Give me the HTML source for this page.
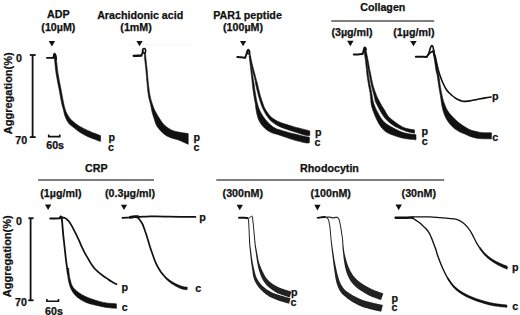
<!DOCTYPE html>
<html><head><meta charset="utf-8">
<style>
html,body{margin:0;padding:0;background:#fff;}
body{width:520px;height:315px;overflow:hidden;}
svg{display:block;}
text{font-family:"Liberation Sans",sans-serif;font-weight:bold;font-size:10.7px;fill:#111;stroke:#111;stroke-width:0.25px;}
text.y{font-size:11px;}
</style></head>
<body>
<svg width="520" height="315" viewBox="0 0 520 315">
<g text-anchor="middle">
<text x="58.4" y="18.4">ADP</text>
<text x="58.4" y="30.8">(10µM)</text>
<text x="140.2" y="18.6">Arachidonic acid</text>
<text x="136.1" y="31.2">(1mM)</text>
<text x="247.5" y="18.6">PAR1 peptide</text>
<text x="243" y="31.2">(100µM)</text>
<text x="382.8" y="10.6">Collagen</text>
<text x="352" y="35.6">(3µg/ml)</text>
<text x="413.9" y="35.6">(1µg/ml)</text>
<text x="96.3" y="172.1">CRP</text>
<text x="60.9" y="197.2">(1µg/ml)</text>
<text x="130.1" y="197.2">(0.3µg/ml)</text>
<text x="329.5" y="172.1">Rhodocytin</text>
<text x="242.8" y="197.2">(300nM)</text>
<text x="330.7" y="197.2">(100nM)</text>
<text x="418.8" y="197.2">(30nM)</text>
</g>
<g stroke="#555" stroke-width="1.5">
<line x1="331.3" y1="20.9" x2="434.2" y2="20.9"/>
<line x1="38.1" y1="180.1" x2="154" y2="180.1"/>
<line x1="216.3" y1="180.1" x2="444.2" y2="180.1"/>
</g>
<line x1="127.6" y1="44.7" x2="191.6" y2="44.7" stroke="#f5f5f5" stroke-width="1"/>

<g fill="#111">
<path d="M48.7,40.9 L55.1,40.9 L51.9,46.4 Z"/>
<path d="M136.4,40.9 L142.6,40.9 L139.5,46.3 Z"/>
<path d="M240.0,40.9 L246.2,40.9 L243.1,46.3 Z"/>
<path d="M347.1,40.7 L353.6,40.7 L350.35,46.2 Z"/>
<path d="M410.2,40.9 L416.7,40.9 L413.45,46.3 Z"/>
<path d="M44.9,204.5 L51.3,204.5 L48.1,210.0 Z"/>
<path d="M120.9,204.7 L127.1,204.7 L124.0,210.1 Z"/>
<path d="M236.6,204.7 L242.9,204.7 L239.75,210.3 Z"/>
<path d="M314.3,204.8 L320.6,204.8 L317.45,210.4 Z"/>
<path d="M395.5,204.5 L401.9,204.5 L398.7,210.3 Z"/>
</g>

<g stroke="#111" stroke-width="1.8">
<line x1="32.6" y1="55" x2="32.6" y2="137.1"/>
<line x1="29.8" y1="55" x2="35.7" y2="55"/>
<line x1="29.8" y1="137.1" x2="35.7" y2="137.1"/>
<line x1="30.6" y1="218.2" x2="30.6" y2="300.3"/>
<line x1="28.4" y1="218.2" x2="33.6" y2="218.2"/>
<line x1="28.2" y1="300.3" x2="33.6" y2="300.3"/>
</g>
<text x="15.9" y="61.8">0</text>
<text x="15.2" y="143.6">70</text>
<text class="y" transform="translate(11.6,134.2) rotate(-90)">Aggregation(%)</text>
<text x="16.0" y="224.6">0</text>
<text x="15.0" y="306.3">70</text>
<text class="y" transform="translate(11.2,297.2) rotate(-90)">Aggregation(%)</text>
<path d="M48.7,134.6 V136.6 H59.8 V134.6" fill="none" stroke="#111" stroke-width="1.6"/>
<text x="46.2" y="148.9">60s</text>
<path d="M46.9,299.1 V301.3 H58.5 V299.1" fill="none" stroke="#111" stroke-width="1.6"/>
<text x="45" y="314.8">60s</text>

<g>
<text x="108.6" y="140.6">p</text>
<text x="107.9" y="150.9">c</text>
<text x="193.4" y="141.2">p</text>
<text x="193.6" y="150.8">c</text>
<text x="315" y="136.2">p</text>
<text x="314.6" y="146.4">c</text>
<text x="421.6" y="134.8">p</text>
<text x="421.8" y="144.6">c</text>
<text x="491.9" y="100.2">p</text>
<text x="492.2" y="140.6">c</text>
<text x="121.6" y="291.2">p</text>
<text x="121.8" y="311">c</text>
<text x="199.3" y="220.9">p</text>
<text x="195.2" y="292">c</text>
<text x="291" y="296.2">p</text>
<text x="290.6" y="306">c</text>
<text x="391.6" y="301.8">p</text>
<text x="391.4" y="311.3">c</text>
<text x="512" y="270.7">p</text>
<text x="512.2" y="310.3">c</text>
</g>
<g fill="#111">
<path d="M46.90,57.80 C47.98,57.80 52.32,57.80 53.40,57.80" fill="none" stroke="#111" stroke-width="1.80" stroke-linejoin="round" stroke-linecap="round"/>
<path d="M53.40,57.80 C53.55,57.13 53.98,54.22 54.30,53.80 C54.62,53.38 55.02,54.43 55.30,55.30 C55.58,56.17 55.88,58.38 56.00,59.00" fill="none" stroke="#111" stroke-width="2.00" stroke-linejoin="round" stroke-linecap="round"/>
<path d="M56.20,55.50 C56.25,56.25 56.17,56.87 56.50,60.00 C56.83,63.13 57.47,69.53 58.20,74.30 C58.93,79.07 60.00,83.83 60.90,88.60 C61.80,93.37 62.82,99.25 63.60,102.90 C64.38,106.55 64.95,108.57 65.60,110.50 C66.25,112.43 66.85,113.28 67.50,114.50 C68.15,115.72 68.75,116.78 69.50,117.80 C70.25,118.82 70.55,119.33 72.00,120.60 C73.45,121.87 75.58,123.77 78.20,125.40 C80.82,127.03 85.07,129.12 87.70,130.40 C90.33,131.68 92.13,132.33 94.00,133.10 C95.87,133.87 97.80,134.58 98.90,135.00 C100.00,135.42 100.32,135.50 100.60,135.60 L100.60,141.20 C100.43,141.20 100.60,141.52 99.60,141.20 C98.60,140.88 96.63,140.10 94.60,139.30 C92.57,138.50 89.78,137.52 87.40,136.40 C85.02,135.28 82.68,134.15 80.30,132.60 C77.92,131.05 75.00,128.60 73.10,127.10 C71.20,125.60 70.20,125.27 68.90,123.60 C67.60,121.93 66.23,119.45 65.30,117.10 C64.37,114.75 63.92,111.87 63.30,109.50 C62.68,107.13 62.33,106.38 61.60,102.90 C60.87,99.42 59.80,93.37 58.90,88.60 C58.00,83.83 56.92,79.07 56.20,74.30 C55.48,69.53 54.87,63.05 54.60,60.00 C54.33,56.95 54.60,56.67 54.60,56.00 Z" fill="#111" stroke="#111" stroke-width="0.60" stroke-linejoin="round"/>
<path d="M133.60,55.80 C134.88,55.78 140.02,55.72 141.30,55.70" fill="none" stroke="#111" stroke-width="2.30" stroke-linejoin="round" stroke-linecap="round"/>
<ellipse cx="144.1" cy="50.9" rx="1.55" ry="2.3" fill="none" stroke="#111" stroke-width="1.5"/>
<path d="M141.30,55.40 C141.47,55.03 142.05,53.93 142.30,53.20 C142.55,52.47 142.72,51.37 142.80,51.00" fill="none" stroke="#111" stroke-width="1.80" stroke-linejoin="round" stroke-linecap="round"/>
<path d="M145.40,52.50 C145.52,53.75 145.80,57.08 146.10,60.00 C146.40,62.92 146.83,66.22 147.20,70.00 C147.57,73.78 147.83,78.47 148.30,82.70 C148.77,86.93 149.27,91.68 150.00,95.40 C150.73,99.12 151.75,102.22 152.70,105.00 C153.65,107.78 154.48,109.72 155.70,112.10 C156.92,114.48 158.57,117.15 160.00,119.30 C161.43,121.45 162.40,123.22 164.30,125.00 C166.20,126.78 169.02,128.82 171.40,130.00 C173.78,131.18 175.80,131.50 178.60,132.10 C181.40,132.70 186.60,133.35 188.20,133.60 L188.20,144.30 C186.60,143.58 181.40,141.07 178.60,140.00 C175.80,138.93 173.78,138.85 171.40,137.90 C169.02,136.95 166.68,136.22 164.30,134.30 C161.92,132.38 158.77,128.90 157.10,126.40 C155.43,123.90 155.13,121.68 154.30,119.30 C153.47,116.92 152.70,114.48 152.10,112.10 C151.50,109.72 151.32,107.78 150.70,105.00 C150.08,102.22 149.02,99.12 148.40,95.40 C147.78,91.68 147.42,86.93 147.00,82.70 C146.58,78.47 146.27,73.78 145.90,70.00 C145.53,66.22 145.07,62.92 144.80,60.00 C144.53,57.08 144.38,53.75 144.30,52.50 Z" fill="#111" stroke="#111" stroke-width="0.60" stroke-linejoin="round"/>
<path d="M237.30,57.00 C237.92,57.05 239.68,57.18 241.00,57.30 C242.32,57.42 244.50,57.63 245.20,57.70" fill="none" stroke="#111" stroke-width="1.90" stroke-linejoin="round" stroke-linecap="round"/>
<path d="M245.20,57.60 C245.38,57.08 245.95,55.60 246.30,54.50 C246.65,53.40 246.98,51.78 247.30,51.00 C247.62,50.22 247.88,49.80 248.20,49.80 C248.52,49.80 249.03,50.80 249.20,51.00" fill="none" stroke="#111" stroke-width="1.90" stroke-linejoin="round" stroke-linecap="round"/>
<ellipse cx="248.6" cy="52.2" rx="1.1" ry="1.9" fill="none" stroke="#111" stroke-width="1.4"/>
<path d="M249.40,50.00 C249.65,51.33 250.43,55.67 250.90,58.00 C251.37,60.33 251.63,61.67 252.20,64.00 C252.77,66.33 253.60,69.33 254.30,72.00 C255.00,74.67 255.92,78.22 256.40,80.00 C256.88,81.78 256.78,81.03 257.20,82.70 C257.62,84.37 258.37,87.78 258.90,90.00 C259.43,92.22 259.82,94.00 260.40,96.00 C260.98,98.00 261.70,100.00 262.40,102.00 C263.10,104.00 263.70,106.17 264.60,108.00 C265.50,109.83 266.73,111.50 267.80,113.00 C268.87,114.50 269.73,115.83 271.00,117.00 C272.27,118.17 273.90,119.12 275.40,120.00 C276.90,120.88 277.12,121.23 280.00,122.30 C282.88,123.37 288.47,125.17 292.70,126.40 C296.93,127.63 302.55,128.95 305.40,129.70 C308.25,130.45 309.07,130.70 309.80,130.90 L309.80,135.60 C309.07,135.55 308.25,136.02 305.40,135.30 C302.55,134.58 296.93,132.72 292.70,131.30 C288.47,129.88 283.28,128.27 280.00,126.80 C276.72,125.33 274.83,123.83 273.00,122.50 C271.17,121.17 270.23,120.22 269.00,118.80 C267.77,117.38 266.68,115.80 265.60,114.00 C264.52,112.20 263.38,110.00 262.50,108.00 C261.62,106.00 260.97,104.00 260.30,102.00 C259.63,100.00 259.05,98.00 258.50,96.00 C257.95,94.00 257.52,92.22 257.00,90.00 C256.48,87.78 255.73,84.37 255.40,82.70 C255.07,81.03 255.42,81.78 255.00,80.00 C254.58,78.22 253.55,74.67 252.90,72.00 C252.25,69.33 251.58,66.33 251.10,64.00 C250.62,61.67 250.42,60.00 250.00,58.00 C249.58,56.00 248.83,53.00 248.60,52.00 Z" fill="#111" stroke="#111" stroke-width="0.60" stroke-linejoin="round"/>
<path d="M249.90,56.00 C250.07,57.00 250.57,59.67 250.90,62.00 C251.23,64.33 251.53,67.33 251.90,70.00 C252.27,72.67 252.77,75.88 253.10,78.00 C253.43,80.12 253.55,80.37 253.90,82.70 C254.25,85.03 254.75,89.12 255.20,92.00 C255.65,94.88 256.22,98.00 256.60,100.00 C256.98,102.00 257.07,102.50 257.50,104.00 C257.93,105.50 258.52,107.33 259.20,109.00 C259.88,110.67 260.63,112.33 261.60,114.00 C262.57,115.67 263.85,117.50 265.00,119.00 C266.15,120.50 267.25,121.75 268.50,123.00 C269.75,124.25 271.17,125.53 272.50,126.50 C273.83,127.47 275.25,128.23 276.50,128.80 C277.75,129.37 277.30,129.12 280.00,129.90 C282.70,130.68 288.47,132.38 292.70,133.50 C296.93,134.62 302.62,135.98 305.40,136.60 C308.18,137.22 308.73,137.10 309.40,137.20 L309.40,142.80 C308.73,142.80 308.18,143.33 305.40,142.80 C302.62,142.27 296.93,140.85 292.70,139.60 C288.47,138.35 283.37,136.40 280.00,135.30 C276.63,134.20 274.42,133.72 272.50,133.00 C270.58,132.28 269.83,131.83 268.50,131.00 C267.17,130.17 265.75,129.17 264.50,128.00 C263.25,126.83 262.00,125.42 261.00,124.00 C260.00,122.58 259.18,121.17 258.50,119.50 C257.82,117.83 257.35,115.92 256.90,114.00 C256.45,112.08 256.08,109.83 255.80,108.00 C255.52,106.17 255.40,104.33 255.20,103.00 C255.00,101.67 254.92,101.83 254.60,100.00 C254.28,98.17 253.70,94.88 253.30,92.00 C252.90,89.12 252.47,85.03 252.20,82.70 C251.93,80.37 251.93,80.12 251.70,78.00 C251.47,75.88 251.10,72.67 250.80,70.00 C250.50,67.33 250.17,64.33 249.90,62.00 C249.63,59.67 249.32,57.00 249.20,56.00 Z" fill="#111" stroke="#111" stroke-width="0.60" stroke-linejoin="round"/>
<path d="M353.80,54.50 C354.50,54.48 356.57,54.48 358.00,54.40 C359.43,54.32 361.67,54.07 362.40,54.00" fill="none" stroke="#111" stroke-width="2.00" stroke-linejoin="round" stroke-linecap="round"/>
<path d="M362.40,54.00 C362.58,53.50 363.17,52.03 363.50,51.00 C363.83,49.97 364.10,48.37 364.40,47.80 C364.70,47.23 365.03,47.32 365.30,47.60 C365.57,47.88 365.88,49.18 366.00,49.50" fill="none" stroke="#111" stroke-width="1.90" stroke-linejoin="round" stroke-linecap="round"/>
<path d="M365.40,47.50 C365.57,48.25 366.03,50.25 366.40,52.00 C366.77,53.75 367.27,56.33 367.60,58.00 C367.93,59.67 368.05,60.10 368.40,62.00 C368.75,63.90 369.32,67.40 369.70,69.40 C370.08,71.40 370.35,72.23 370.70,74.00 C371.05,75.77 371.33,77.83 371.80,80.00 C372.27,82.17 372.88,84.88 373.50,87.00 C374.12,89.12 374.82,90.87 375.50,92.70 C376.18,94.53 376.88,96.45 377.60,98.00 C378.32,99.55 379.13,100.77 379.80,102.00 C380.47,103.23 380.82,104.07 381.60,105.40 C382.38,106.73 383.38,108.18 384.50,110.00 C385.62,111.82 386.82,114.50 388.30,116.30 C389.78,118.10 391.50,119.30 393.40,120.80 C395.30,122.30 397.60,124.05 399.70,125.30 C401.80,126.55 403.53,127.53 406.00,128.30 C408.47,129.07 413.08,129.63 414.50,129.90 L414.50,133.20 C413.08,132.87 408.88,132.13 406.00,131.20 C403.12,130.27 399.70,128.83 397.20,127.60 C394.70,126.37 393.07,125.38 391.00,123.80 C388.93,122.22 386.58,120.22 384.80,118.10 C383.02,115.98 381.70,113.52 380.30,111.10 C378.90,108.68 377.20,105.12 376.40,103.60 C375.60,102.08 375.80,102.93 375.50,102.00 C375.20,101.07 374.97,99.55 374.60,98.00 C374.23,96.45 373.77,94.53 373.30,92.70 C372.83,90.87 372.30,89.12 371.80,87.00 C371.30,84.88 370.73,82.17 370.30,80.00 C369.87,77.83 369.53,75.77 369.20,74.00 C368.87,72.23 368.65,71.40 368.30,69.40 C367.95,67.40 367.43,63.90 367.10,62.00 C366.77,60.10 366.63,59.50 366.30,58.00 C365.97,56.50 365.43,54.67 365.10,53.00 C364.77,51.33 364.43,48.83 364.30,48.00 Z" fill="#111" stroke="#111" stroke-width="0.60" stroke-linejoin="round"/>
<path d="M365.20,50.00 C365.33,50.83 365.73,53.17 366.00,55.00 C366.27,56.83 366.52,58.60 366.80,61.00 C367.08,63.40 367.42,66.90 367.70,69.40 C367.98,71.90 368.25,74.23 368.50,76.00 C368.75,77.77 368.87,78.17 369.20,80.00 C369.53,81.83 370.08,84.88 370.50,87.00 C370.92,89.12 371.30,90.53 371.70,92.70 C372.10,94.87 372.50,98.07 372.90,100.00 C373.30,101.93 373.63,102.90 374.10,104.30 C374.57,105.70 375.03,106.95 375.70,108.40 C376.37,109.85 377.12,111.23 378.10,113.00 C379.08,114.77 380.18,117.15 381.60,119.00 C383.02,120.85 384.63,122.58 386.60,124.10 C388.57,125.62 391.00,126.82 393.40,128.10 C395.80,129.38 398.47,130.85 401.00,131.80 C403.53,132.75 406.10,133.30 408.60,133.80 C411.10,134.30 414.77,134.63 416.00,134.80 L416.00,139.80 C414.77,139.68 411.10,139.45 408.60,139.10 C406.10,138.75 403.53,138.33 401.00,137.70 C398.47,137.07 395.73,136.17 393.40,135.30 C391.07,134.43 388.90,133.67 387.00,132.50 C385.10,131.33 383.58,130.18 382.00,128.30 C380.42,126.42 378.88,123.82 377.50,121.20 C376.12,118.58 374.73,115.30 373.70,112.60 C372.67,109.90 371.78,107.10 371.30,105.00 C370.82,102.90 371.02,102.05 370.80,100.00 C370.58,97.95 370.32,94.87 370.00,92.70 C369.68,90.53 369.28,89.12 368.90,87.00 C368.52,84.88 368.00,81.83 367.70,80.00 C367.40,78.17 367.32,77.77 367.10,76.00 C366.88,74.23 366.67,71.90 366.40,69.40 C366.13,66.90 365.80,63.40 365.50,61.00 C365.20,58.60 364.87,56.83 364.60,55.00 C364.33,53.17 364.02,50.83 363.90,50.00 Z" fill="#111" stroke="#111" stroke-width="0.60" stroke-linejoin="round"/>
<path d="M415.80,56.70 C416.67,56.72 419.22,56.75 421.00,56.80 C422.78,56.85 425.58,56.97 426.50,57.00" fill="none" stroke="#111" stroke-width="2.00" stroke-linejoin="round" stroke-linecap="round"/>
<path d="M426.50,57.00 C426.80,56.55 427.78,55.38 428.30,54.30 C428.82,53.22 429.18,51.75 429.60,50.50 C430.02,49.25 430.42,47.62 430.80,46.80 C431.18,45.98 431.53,45.57 431.90,45.60 C432.27,45.63 432.72,46.27 433.00,47.00 C433.28,47.73 433.38,48.67 433.60,50.00 C433.82,51.33 434.03,53.50 434.30,55.00 C434.57,56.50 435.05,58.33 435.20,59.00" fill="none" stroke="#111" stroke-width="1.60" stroke-linejoin="round" stroke-linecap="round"/>
<path d="M426.50,57.00 C426.83,56.60 427.83,55.33 428.50,54.60 C429.17,53.87 429.87,53.10 430.50,52.60 C431.13,52.10 431.75,51.53 432.30,51.60 C432.85,51.67 433.35,52.15 433.80,53.00 C434.25,53.85 434.53,55.03 435.00,56.70 C435.47,58.37 436.05,60.78 436.60,63.00 C437.15,65.22 437.73,67.92 438.30,70.00 C438.87,72.08 439.28,73.45 440.00,75.50 C440.72,77.55 441.60,80.05 442.60,82.30 C443.60,84.55 444.93,87.25 446.00,89.00 C447.07,90.75 448.00,91.72 449.00,92.80 C450.00,93.88 451.00,94.67 452.00,95.50 C453.00,96.33 453.92,97.08 455.00,97.80 C456.08,98.52 457.25,99.23 458.50,99.80 C459.75,100.37 461.25,100.93 462.50,101.20 C463.75,101.47 464.75,101.45 466.00,101.40 C467.25,101.35 468.50,101.15 470.00,100.90 C471.50,100.65 473.33,100.25 475.00,99.90 C476.67,99.55 478.27,99.13 480.00,98.80 C481.73,98.47 483.55,98.20 485.40,97.90 C487.25,97.60 490.15,97.15 491.10,97.00" fill="none" stroke="#111" stroke-width="1.60" stroke-linejoin="round" stroke-linecap="round"/>
<path d="M434.00,50.00 C434.18,50.83 434.73,53.50 435.10,55.00 C435.47,56.50 435.73,56.22 436.20,59.00 C436.67,61.78 437.47,69.03 437.90,71.70 C438.33,74.37 438.35,72.33 438.80,75.00 C439.25,77.67 440.00,84.03 440.60,87.70 C441.20,91.37 441.87,94.62 442.40,97.00 C442.93,99.38 443.28,100.42 443.80,102.00 C444.32,103.58 444.88,105.08 445.50,106.50 C446.12,107.92 446.67,109.17 447.50,110.50 C448.33,111.83 449.33,113.12 450.50,114.50 C451.67,115.88 452.92,117.28 454.50,118.80 C456.08,120.32 458.28,122.27 460.00,123.60 C461.72,124.93 463.22,125.82 464.80,126.80 C466.38,127.78 467.92,128.78 469.50,129.50 C471.08,130.22 472.72,130.65 474.30,131.10 C475.88,131.55 477.42,131.93 479.00,132.20 C480.58,132.47 481.73,132.60 483.80,132.70 C485.87,132.80 490.13,132.78 491.40,132.80 L491.40,138.90 C490.13,138.88 485.87,138.87 483.80,138.80 C481.73,138.73 480.58,138.68 479.00,138.50 C477.42,138.32 475.88,138.08 474.30,137.70 C472.72,137.32 471.08,136.82 469.50,136.20 C467.92,135.58 466.38,134.68 464.80,134.00 C463.22,133.32 461.72,133.00 460.00,132.10 C458.28,131.20 456.08,129.82 454.50,128.60 C452.92,127.38 451.75,126.23 450.50,124.80 C449.25,123.37 448.03,121.72 447.00,120.00 C445.97,118.28 445.07,116.50 444.30,114.50 C443.53,112.50 442.90,110.08 442.40,108.00 C441.90,105.92 441.60,103.83 441.30,102.00 C441.00,100.17 440.98,99.38 440.60,97.00 C440.22,94.62 439.58,91.37 439.00,87.70 C438.42,84.03 437.57,77.67 437.10,75.00 C436.63,72.33 436.67,74.37 436.20,71.70 C435.73,69.03 434.73,61.78 434.30,59.00 C433.87,56.22 433.85,56.50 433.60,55.00 C433.35,53.50 432.93,50.83 432.80,50.00 Z" fill="#111" stroke="#111" stroke-width="0.60" stroke-linejoin="round"/>
<path d="M50.20,218.50 C51.00,218.50 53.37,218.53 55.00,218.50 C56.63,218.47 59.17,218.33 60.00,218.30" fill="none" stroke="#111" stroke-width="1.90" stroke-linejoin="round" stroke-linecap="round"/>
<path d="M59.60,218.30 C59.78,217.98 60.30,216.52 60.70,216.40 C61.10,216.28 61.78,217.40 62.00,217.60" fill="none" stroke="#111" stroke-width="1.80" stroke-linejoin="round" stroke-linecap="round"/>
<path d="M61.80,217.60 C61.90,218.83 62.18,222.37 62.40,225.00 C62.62,227.63 62.87,230.90 63.10,233.40 C63.33,235.90 63.50,237.23 63.80,240.00 C64.10,242.77 64.53,246.67 64.90,250.00 C65.27,253.33 65.63,257.00 66.00,260.00 C66.37,263.00 66.78,265.67 67.10,268.00 C67.42,270.33 67.77,273.00 67.90,274.00" fill="none" stroke="#111" stroke-width="1.80" stroke-linejoin="round" stroke-linecap="round"/>
<path d="M68.60,268.00 C68.72,269.17 69.02,273.00 69.30,275.00 C69.58,277.00 69.78,278.13 70.30,280.00 C70.82,281.87 71.30,284.33 72.40,286.20 C73.50,288.07 74.90,289.57 76.90,291.20 C78.90,292.83 81.90,294.68 84.40,296.00 C86.90,297.32 89.42,298.20 91.90,299.10 C94.38,300.00 96.82,300.75 99.30,301.40 C101.78,302.05 103.95,302.60 106.80,303.00 C109.65,303.40 114.80,303.67 116.40,303.80 L116.40,308.40 C114.80,308.25 109.65,307.90 106.80,307.50 C103.95,307.10 102.28,306.67 99.30,306.00 C96.32,305.33 91.88,304.48 88.90,303.50 C85.92,302.52 83.65,301.45 81.40,300.10 C79.15,298.75 77.13,297.27 75.40,295.40 C73.67,293.53 72.13,291.23 71.00,288.90 C69.87,286.57 69.15,283.72 68.60,281.40 C68.05,279.08 67.93,277.23 67.70,275.00 C67.47,272.77 67.28,269.17 67.20,268.00 Z" fill="#111" stroke="#111" stroke-width="0.60" stroke-linejoin="round"/>
<path d="M60.50,217.80 C60.83,217.73 61.83,217.38 62.50,217.40 C63.17,217.42 63.85,217.67 64.50,217.90 C65.15,218.13 65.65,218.18 66.40,218.80 C67.15,219.42 68.13,220.47 69.00,221.60 C69.87,222.73 70.75,224.15 71.60,225.60 C72.45,227.05 73.27,228.67 74.10,230.30 C74.93,231.93 75.75,233.65 76.60,235.40 C77.45,237.15 78.35,238.92 79.20,240.80 C80.05,242.68 80.73,244.62 81.70,246.70 C82.67,248.78 83.90,251.25 85.00,253.30 C86.10,255.35 87.15,257.05 88.30,259.00 C89.45,260.95 90.70,263.25 91.90,265.00 C93.10,266.75 94.27,268.20 95.50,269.50 C96.73,270.80 98.05,271.77 99.30,272.80 C100.55,273.83 101.75,274.77 103.00,275.70 C104.25,276.63 105.38,277.42 106.80,278.40 C108.22,279.38 109.88,280.62 111.50,281.60 C113.12,282.58 115.67,283.85 116.50,284.30" fill="none" stroke="#111" stroke-width="1.70" stroke-linejoin="round" stroke-linecap="round"/>
<path d="M122.40,217.80 C123.17,217.77 125.62,217.68 127.00,217.60 C128.38,217.52 129.37,217.42 130.70,217.30 C132.03,217.18 132.88,217.00 135.00,216.90 C137.12,216.80 140.90,216.78 143.40,216.70 C145.90,216.62 147.88,216.45 150.00,216.40 C152.12,216.35 153.18,216.37 156.10,216.40 C159.02,216.43 163.52,216.53 167.50,216.60 C171.48,216.67 175.35,216.75 180.00,216.80 C184.65,216.85 192.83,216.88 195.40,216.90" fill="none" stroke="#111" stroke-width="1.80" stroke-linejoin="round" stroke-linecap="round"/>
<path d="M130.60,217.20 C131.25,217.10 133.27,216.67 134.50,216.60 C135.73,216.53 137.42,216.77 138.00,216.80" fill="none" stroke="#111" stroke-width="2.90" stroke-linejoin="round" stroke-linecap="round"/>
<path d="M137.50,217.30 C137.83,217.67 138.72,218.47 139.50,219.50 C140.28,220.53 141.42,222.00 142.20,223.50 C142.98,225.00 143.53,226.70 144.20,228.50 C144.87,230.30 145.53,232.25 146.20,234.30 C146.87,236.35 147.52,238.55 148.20,240.80 C148.88,243.05 149.50,245.35 150.30,247.80 C151.10,250.25 152.10,253.02 153.00,255.50 C153.90,257.98 154.80,260.62 155.70,262.70 C156.60,264.78 157.50,266.42 158.40,268.00 C159.30,269.58 160.08,270.82 161.10,272.20 C162.12,273.58 163.38,275.05 164.50,276.30 C165.62,277.55 166.58,278.65 167.80,279.70 C169.02,280.75 171.13,282.12 171.80,282.60" fill="none" stroke="#111" stroke-width="1.70" stroke-linejoin="round" stroke-linecap="round"/>
<path d="M167.80,278.80 C168.47,279.27 170.45,280.77 171.80,281.60 C173.15,282.43 174.53,283.13 175.90,283.80 C177.27,284.47 178.65,285.10 180.00,285.60 C181.35,286.10 182.80,286.55 184.00,286.80 C185.20,287.05 186.67,287.05 187.20,287.10 L187.20,289.70 C186.67,289.67 185.20,289.73 184.00,289.50 C182.80,289.27 181.35,288.83 180.00,288.30 C178.65,287.77 177.27,287.05 175.90,286.30 C174.53,285.55 173.15,284.75 171.80,283.80 C170.45,282.85 168.47,281.13 167.80,280.60 Z" fill="#111" stroke="#111" stroke-width="0.50" stroke-linejoin="round"/>
<path d="M239.00,217.80 C239.83,217.80 242.57,217.77 244.00,217.80 C245.43,217.83 247.00,217.97 247.60,218.00" fill="none" stroke="#111" stroke-width="1.90" stroke-linejoin="round" stroke-linecap="round"/>
<path d="M246.97,218.31 L247.07,218.40 L247.19,218.49 L247.29,218.55 L247.38,218.61 L247.46,218.68 L247.55,218.78 L247.63,218.92 L247.72,219.15 L247.79,219.41 L247.86,219.65 L247.91,219.90 L247.97,220.20 L248.02,220.60 L248.08,221.13 L248.14,221.83 L248.20,222.73 L248.27,223.91 L248.35,225.34 L248.42,226.96 L248.50,228.70 L248.58,230.49 L248.66,232.25 L248.73,233.92 L248.80,235.42 L248.86,236.80 L248.92,238.15 L248.97,239.45 L249.03,240.71 L249.08,241.90 L249.13,243.03 L249.19,244.08 L249.25,245.04 L249.31,245.87 L249.38,246.56 L249.44,247.15 L249.51,247.68 L249.57,248.19 L249.64,248.73 L249.72,249.34 L249.80,250.07 L249.89,250.93 L249.98,251.89 L250.08,252.91 L250.18,253.96 L250.28,255.04 L250.39,256.10 L250.50,257.12 L250.61,258.09 L250.71,259.00 L250.81,259.88 L250.91,260.73 L251.01,261.57 L251.12,262.40 L251.23,263.21 L251.34,264.03 L251.46,264.84 L251.57,265.66 L251.68,266.46 L251.79,267.25 L251.91,268.04 L252.03,268.83 L252.16,269.62 L252.29,270.42 L252.42,271.22 L252.53,272.02 L252.63,272.83 L252.73,273.66 L252.84,274.51 L252.98,275.38 L253.15,276.28 L253.37,277.19 L253.64,278.11 L253.97,279.03 L254.33,279.95 L254.73,280.88 L255.16,281.82 L255.63,282.75 L256.14,283.68 L256.68,284.58 L257.25,285.47 L257.85,286.33 L258.49,287.17 L259.16,287.99 L259.86,288.80 L260.59,289.59 L261.34,290.36 L262.13,291.12 L262.93,291.86 L263.76,292.58 L264.62,293.30 L265.51,294.00 L266.44,294.69 L267.39,295.36 L268.39,296.01 L269.42,296.64 L270.49,297.24 L271.63,297.82 L272.80,298.35 L274.00,298.86 L275.21,299.34 L276.42,299.79 L277.62,300.23 L278.79,300.65 L279.94,301.06 L281.17,301.46 L282.48,301.85 L283.81,302.24 L285.12,302.61 L286.35,302.95 L287.44,303.25 L288.36,303.50 L289.04,303.70 L290.56,298.30 L289.86,298.11 L288.93,297.85 L287.84,297.55 L286.63,297.22 L285.36,296.86 L284.07,296.48 L282.83,296.11 L281.66,295.74 L280.50,295.40 L279.32,295.05 L278.14,294.70 L276.97,294.34 L275.84,293.97 L274.74,293.58 L273.69,293.18 L272.71,292.76 L271.75,292.31 L270.82,291.84 L269.90,291.34 L269.01,290.81 L268.15,290.27 L267.30,289.71 L266.47,289.13 L265.67,288.54 L264.89,287.94 L264.13,287.32 L263.40,286.69 L262.69,286.05 L262.01,285.39 L261.36,284.72 L260.74,284.03 L260.15,283.33 L259.58,282.61 L259.04,281.86 L258.52,281.08 L258.02,280.28 L257.56,279.47 L257.12,278.67 L256.72,277.86 L256.36,277.09 L256.04,276.33 L255.78,275.58 L255.55,274.81 L255.35,274.03 L255.16,273.23 L254.97,272.42 L254.78,271.60 L254.58,270.78 L254.38,269.99 L254.19,269.21 L254.01,268.44 L253.83,267.67 L253.65,266.91 L253.48,266.13 L253.31,265.35 L253.14,264.56 L252.98,263.76 L252.84,262.96 L252.69,262.15 L252.55,261.34 L252.41,260.52 L252.27,259.67 L252.13,258.81 L251.99,257.91 L251.86,256.96 L251.73,255.94 L251.60,254.89 L251.47,253.82 L251.34,252.77 L251.22,251.75 L251.11,250.80 L251.00,249.93 L250.90,249.19 L250.81,248.57 L250.72,248.02 L250.64,247.52 L250.57,247.01 L250.50,246.44 L250.42,245.77 L250.35,244.96 L250.28,244.01 L250.21,242.97 L250.14,241.85 L250.07,240.66 L250.01,239.40 L249.94,238.10 L249.87,236.76 L249.80,235.38 L249.73,233.88 L249.65,232.21 L249.58,230.45 L249.50,228.66 L249.42,226.92 L249.34,225.29 L249.27,223.85 L249.20,222.67 L249.13,221.75 L249.07,221.03 L249.01,220.48 L248.96,220.05 L248.90,219.70 L248.83,219.41 L248.76,219.15 L248.68,218.85 L248.58,218.54 L248.46,218.25 L248.31,218.02 L248.16,217.83 L248.02,217.69 L247.91,217.59 L247.86,217.53 L247.83,217.49 Z" fill="#222"/>
<path d="M249.30,217.90 C249.55,217.68 250.38,216.90 250.80,216.60 C251.22,216.30 251.53,216.00 251.80,216.10 C252.07,216.20 252.30,217.02 252.40,217.20" fill="none" stroke="#222" stroke-width="1.00" stroke-linejoin="round" stroke-linecap="round"/>
<path d="M251.81,216.87 L251.86,217.28 L251.94,217.78 L252.03,218.36 L252.13,219.03 L252.24,219.80 L252.36,220.67 L252.48,221.66 L252.60,222.75 L252.74,224.03 L252.88,225.52 L253.04,227.15 L253.20,228.86 L253.36,230.61 L253.51,232.33 L253.66,233.96 L253.80,235.45 L253.92,236.83 L254.04,238.17 L254.15,239.48 L254.25,240.73 L254.35,241.92 L254.45,243.05 L254.55,244.10 L254.65,245.06 L254.74,245.88 L254.81,246.52 L254.88,247.04 L254.95,247.52 L255.03,248.00 L255.12,248.55 L255.22,249.23 L255.36,250.10 L255.52,251.24 L255.71,252.60 L255.92,254.11 L256.15,255.68 L256.37,257.25 L256.59,258.73 L256.79,260.06 L256.96,261.15 L257.09,261.99 L257.20,262.65 L257.28,263.16 L257.36,263.59 L257.44,263.98 L257.52,264.36 L257.62,264.78 L257.74,265.31 L257.87,265.92 L257.99,266.56 L258.13,267.23 L258.29,267.93 L258.47,268.67 L258.68,269.45 L258.92,270.28 L259.20,271.15 L259.51,272.08 L259.84,273.08 L260.21,274.15 L260.62,275.26 L261.06,276.39 L261.53,277.51 L262.05,278.62 L262.61,279.67 L263.20,280.66 L263.81,281.61 L264.45,282.53 L265.13,283.43 L265.84,284.31 L266.58,285.16 L267.36,285.98 L268.17,286.80 L269.06,287.59 L270.01,288.37 L270.98,289.11 L271.97,289.82 L272.96,290.49 L273.92,291.12 L274.84,291.71 L275.72,292.25 L276.59,292.72 L277.42,293.13 L278.21,293.49 L278.98,293.81 L279.72,294.09 L280.46,294.37 L281.21,294.64 L282.02,294.93 L282.97,295.26 L284.04,295.61 L285.16,295.97 L286.28,296.32 L287.36,296.64 L288.32,296.94 L289.12,297.18 L289.71,297.37 L291.49,291.63 L290.88,291.45 L290.07,291.20 L289.11,290.91 L288.05,290.58 L286.96,290.24 L285.88,289.90 L284.87,289.57 L283.98,289.27 L283.17,289.00 L282.42,288.75 L281.73,288.52 L281.09,288.29 L280.47,288.06 L279.85,287.81 L279.20,287.51 L278.48,287.15 L277.64,286.74 L276.74,286.29 L275.82,285.79 L274.88,285.27 L273.95,284.72 L273.06,284.16 L272.21,283.58 L271.43,283.00 L270.67,282.41 L269.93,281.78 L269.21,281.14 L268.52,280.47 L267.85,279.77 L267.20,279.05 L266.58,278.30 L265.99,277.53 L265.42,276.71 L264.87,275.81 L264.34,274.85 L263.82,273.85 L263.33,272.85 L262.86,271.86 L262.41,270.92 L262.00,270.05 L261.64,269.27 L261.32,268.53 L261.04,267.84 L260.78,267.17 L260.53,266.53 L260.30,265.90 L260.08,265.29 L259.86,264.69 L259.66,264.16 L259.50,263.75 L259.37,263.40 L259.24,263.08 L259.12,262.72 L258.98,262.26 L258.82,261.65 L258.64,260.85 L258.42,259.78 L258.17,258.47 L257.90,257.00 L257.63,255.44 L257.35,253.88 L257.09,252.38 L256.85,251.03 L256.64,249.90 L256.48,249.01 L256.35,248.33 L256.23,247.78 L256.13,247.31 L256.04,246.85 L255.95,246.35 L255.86,245.73 L255.75,244.94 L255.64,243.98 L255.52,242.94 L255.41,241.82 L255.30,240.63 L255.18,239.38 L255.06,238.08 L254.93,236.73 L254.80,235.35 L254.66,233.87 L254.51,232.24 L254.35,230.52 L254.19,228.77 L254.03,227.05 L253.88,225.42 L253.73,223.93 L253.60,222.65 L253.47,221.54 L253.35,220.54 L253.23,219.66 L253.12,218.88 L253.02,218.21 L252.93,217.62 L252.85,217.13 L252.79,216.73 Z" fill="#222"/>
<path d="M317.40,217.70 C317.83,217.67 318.98,217.67 320.00,217.50 C321.02,217.33 322.38,216.75 323.50,216.70 C324.62,216.65 325.62,217.12 326.70,217.20 C327.78,217.28 328.90,217.08 330.00,217.20 C331.10,217.32 332.38,217.87 333.30,217.90 C334.22,217.93 334.80,217.50 335.50,217.40 C336.20,217.30 337.17,217.32 337.50,217.30" fill="none" stroke="#222" stroke-width="1.30" stroke-linejoin="round" stroke-linecap="round"/>
<path d="M317.60,217.80 C318.17,217.75 319.77,217.58 321.00,217.50 C322.23,217.42 324.33,217.33 325.00,217.30" fill="none" stroke="#111" stroke-width="1.50" stroke-linejoin="round" stroke-linecap="round"/>
<path d="M326.15,217.75 L326.27,217.88 L326.44,218.04 L326.64,218.23 L326.85,218.43 L327.06,218.65 L327.26,218.86 L327.44,219.08 L327.59,219.28 L327.71,219.47 L327.81,219.64 L327.90,219.78 L327.97,219.92 L328.04,220.11 L328.12,220.35 L328.21,220.68 L328.31,221.11 L328.44,221.66 L328.58,222.31 L328.72,223.04 L328.87,223.82 L329.02,224.63 L329.16,225.46 L329.29,226.28 L329.40,227.07 L329.50,227.84 L329.59,228.63 L329.66,229.42 L329.73,230.22 L329.80,231.03 L329.86,231.84 L329.93,232.65 L330.00,233.45 L330.08,234.25 L330.15,235.05 L330.23,235.86 L330.30,236.67 L330.38,237.46 L330.45,238.25 L330.53,239.01 L330.60,239.75 L330.66,240.41 L330.71,240.96 L330.76,241.46 L330.80,241.96 L330.86,242.52 L330.93,243.19 L331.03,244.02 L331.15,245.07 L331.29,246.36 L331.46,247.86 L331.65,249.52 L331.86,251.28 L332.07,253.12 L332.30,254.96 L332.53,256.78 L332.76,258.51 L332.96,260.20 L333.16,261.91 L333.37,263.63 L333.58,265.34 L333.80,267.04 L334.03,268.71 L334.27,270.35 L334.52,271.93 L334.75,273.47 L334.98,274.99 L335.21,276.48 L335.45,277.96 L335.71,279.40 L336.00,280.81 L336.33,282.19 L336.71,283.51 L337.11,284.78 L337.54,285.99 L338.00,287.16 L338.50,288.30 L339.04,289.40 L339.62,290.46 L340.25,291.50 L340.95,292.52 L341.74,293.51 L342.60,294.44 L343.50,295.30 L344.41,296.11 L345.32,296.87 L346.21,297.58 L347.07,298.25 L347.90,298.89 L348.74,299.52 L349.59,300.12 L350.44,300.68 L351.27,301.21 L352.10,301.72 L352.92,302.20 L353.75,302.68 L354.57,303.15 L355.42,303.62 L356.28,304.08 L357.15,304.54 L358.04,304.99 L358.95,305.44 L359.90,305.87 L360.87,306.30 L361.88,306.70 L362.90,307.07 L363.93,307.41 L364.95,307.73 L365.99,308.03 L367.04,308.32 L368.11,308.60 L369.22,308.89 L370.38,309.20 L371.70,309.54 L373.19,309.90 L374.76,310.28 L376.35,310.66 L377.86,311.01 L379.23,311.34 L380.38,311.61 L381.22,311.81 L382.78,304.99 L381.92,304.80 L380.76,304.56 L379.39,304.26 L377.88,303.93 L376.31,303.58 L374.75,303.24 L373.30,302.90 L372.02,302.60 L370.87,302.32 L369.77,302.06 L368.73,301.81 L367.74,301.56 L366.79,301.31 L365.88,301.06 L365.00,300.79 L364.12,300.50 L363.26,300.20 L362.41,299.88 L361.58,299.55 L360.75,299.20 L359.92,298.83 L359.10,298.45 L358.27,298.05 L357.43,297.65 L356.58,297.25 L355.77,296.86 L354.97,296.48 L354.19,296.09 L353.43,295.68 L352.66,295.26 L351.90,294.81 L351.10,294.31 L350.25,293.76 L349.36,293.19 L348.48,292.62 L347.63,292.03 L346.81,291.42 L346.03,290.80 L345.32,290.16 L344.65,289.48 L344.00,288.75 L343.37,287.98 L342.77,287.17 L342.20,286.30 L341.64,285.39 L341.11,284.41 L340.59,283.38 L340.09,282.29 L339.62,281.14 L339.18,279.92 L338.77,278.64 L338.38,277.29 L338.00,275.90 L337.62,274.45 L337.25,272.97 L336.88,271.47 L336.52,269.93 L336.18,268.34 L335.84,266.70 L335.51,265.03 L335.18,263.34 L334.86,261.65 L334.55,259.96 L334.24,258.29 L333.97,256.57 L333.69,254.77 L333.41,252.94 L333.14,251.12 L332.89,249.36 L332.65,247.71 L332.44,246.22 L332.25,244.93 L332.11,243.89 L332.00,243.06 L331.91,242.40 L331.85,241.85 L331.79,241.35 L331.73,240.85 L331.67,240.30 L331.60,239.65 L331.52,238.91 L331.45,238.15 L331.37,237.37 L331.30,236.57 L331.22,235.77 L331.15,234.96 L331.07,234.15 L331.00,233.35 L330.93,232.56 L330.86,231.76 L330.80,230.95 L330.73,230.14 L330.66,229.33 L330.58,228.52 L330.50,227.72 L330.40,226.93 L330.28,226.13 L330.15,225.30 L330.00,224.46 L329.85,223.63 L329.70,222.84 L329.56,222.11 L329.41,221.45 L329.29,220.89 L329.17,220.43 L329.07,220.07 L328.98,219.77 L328.88,219.53 L328.78,219.31 L328.67,219.12 L328.55,218.93 L328.41,218.72 L328.23,218.46 L328.01,218.20 L327.78,217.95 L327.55,217.72 L327.33,217.50 L327.13,217.32 L326.97,217.16 L326.85,217.05 Z" fill="#222"/>
<path d="M336.94,217.64 L337.06,217.78 L337.23,217.95 L337.43,218.15 L337.64,218.37 L337.86,218.60 L338.06,218.83 L338.24,219.06 L338.38,219.27 L338.49,219.46 L338.57,219.61 L338.64,219.75 L338.70,219.90 L338.76,220.08 L338.82,220.34 L338.91,220.67 L339.01,221.11 L339.14,221.66 L339.28,222.31 L339.43,223.04 L339.59,223.82 L339.75,224.64 L339.91,225.47 L340.06,226.29 L340.21,227.09 L340.34,227.86 L340.47,228.65 L340.60,229.45 L340.72,230.26 L340.85,231.06 L340.97,231.87 L341.09,232.68 L341.21,233.47 L341.33,234.27 L341.45,235.08 L341.58,235.89 L341.70,236.69 L341.82,237.49 L341.92,238.26 L342.02,239.02 L342.10,239.75 L342.16,240.42 L342.19,241.04 L342.21,241.62 L342.22,242.20 L342.23,242.81 L342.25,243.47 L342.29,244.21 L342.35,245.05 L342.41,245.98 L342.47,246.97 L342.54,248.04 L342.63,249.15 L342.73,250.32 L342.85,251.52 L342.99,252.76 L343.16,254.02 L343.29,255.34 L343.44,256.74 L343.61,258.19 L343.80,259.67 L344.02,261.15 L344.25,262.62 L344.49,264.04 L344.75,265.40 L345.02,266.70 L345.31,267.96 L345.61,269.20 L345.93,270.42 L346.27,271.61 L346.63,272.77 L347.02,273.91 L347.44,275.01 L347.89,276.07 L348.36,277.09 L348.85,278.07 L349.37,279.03 L349.93,279.97 L350.52,280.90 L351.15,281.81 L351.83,282.72 L352.56,283.60 L353.34,284.47 L354.14,285.31 L354.98,286.13 L355.86,286.94 L356.77,287.74 L357.71,288.52 L358.70,289.30 L359.79,290.07 L360.95,290.84 L362.15,291.60 L363.37,292.34 L364.57,293.05 L365.75,293.72 L366.86,294.34 L367.90,294.91 L368.89,295.41 L369.83,295.86 L370.72,296.26 L371.57,296.63 L372.39,296.96 L373.19,297.27 L373.96,297.57 L374.76,297.87 L375.64,298.20 L376.57,298.53 L377.50,298.85 L378.41,299.15 L379.26,299.43 L380.02,299.67 L380.64,299.87 L381.10,300.02 L383.30,293.38 L382.81,293.22 L382.17,293.01 L381.42,292.77 L380.60,292.50 L379.73,292.21 L378.86,291.92 L378.03,291.62 L377.24,291.33 L376.47,291.03 L375.72,290.74 L374.99,290.46 L374.26,290.16 L373.53,289.85 L372.77,289.51 L371.97,289.13 L371.10,288.69 L370.11,288.20 L369.03,287.65 L367.90,287.06 L366.75,286.44 L365.60,285.80 L364.49,285.15 L363.45,284.52 L362.50,283.90 L361.59,283.30 L360.71,282.70 L359.87,282.08 L359.07,281.47 L358.30,280.84 L357.56,280.20 L356.85,279.55 L356.17,278.88 L355.51,278.22 L354.88,277.55 L354.28,276.87 L353.71,276.17 L353.16,275.44 L352.62,274.67 L352.09,273.85 L351.56,272.99 L351.03,272.08 L350.50,271.14 L349.99,270.15 L349.50,269.12 L349.02,268.05 L348.55,266.94 L348.09,265.79 L347.65,264.60 L347.22,263.35 L346.80,262.03 L346.40,260.64 L346.01,259.22 L345.64,257.80 L345.28,256.40 L344.95,255.05 L344.64,253.78 L344.43,252.55 L344.24,251.35 L344.07,250.17 L343.92,249.02 L343.79,247.92 L343.67,246.87 L343.56,245.87 L343.45,244.95 L343.38,244.13 L343.33,243.42 L343.29,242.77 L343.27,242.17 L343.24,241.58 L343.21,240.98 L343.17,240.35 L343.10,239.65 L343.01,238.90 L342.92,238.13 L342.81,237.34 L342.69,236.54 L342.57,235.74 L342.44,234.93 L342.32,234.12 L342.19,233.33 L342.08,232.53 L341.96,231.72 L341.84,230.92 L341.71,230.11 L341.59,229.30 L341.46,228.49 L341.33,227.70 L341.19,226.91 L341.05,226.11 L340.89,225.29 L340.73,224.45 L340.57,223.63 L340.41,222.84 L340.26,222.11 L340.12,221.45 L339.99,220.89 L339.88,220.44 L339.79,220.09 L339.72,219.80 L339.64,219.57 L339.56,219.35 L339.46,219.16 L339.36,218.96 L339.22,218.73 L339.04,218.47 L338.83,218.20 L338.60,217.93 L338.37,217.68 L338.14,217.45 L337.94,217.25 L337.78,217.08 L337.66,216.96 Z" fill="#222"/>
<path d="M395.60,217.80 C397.00,217.78 401.17,217.77 404.00,217.70 C406.83,217.63 411.17,217.45 412.60,217.40" fill="none" stroke="#111" stroke-width="2.40" stroke-linejoin="round" stroke-linecap="round"/>
<path d="M412.60,216.90 C413.83,216.88 417.10,216.80 420.00,216.80 C422.90,216.80 426.67,216.75 430.00,216.90 C433.33,217.05 436.95,217.45 440.00,217.70 C443.05,217.95 445.55,218.12 448.30,218.40 C451.05,218.68 454.10,218.72 456.50,219.40 C458.90,220.08 460.80,221.12 462.70,222.50 C464.60,223.88 466.35,225.80 467.90,227.70 C469.45,229.60 470.63,231.50 472.00,233.90 C473.37,236.30 474.73,239.67 476.10,242.10 C477.47,244.53 478.65,246.37 480.20,248.50 C481.75,250.63 483.15,252.77 485.40,254.90 C487.65,257.03 490.95,259.53 493.70,261.30 C496.45,263.07 499.67,264.45 501.90,265.50 C504.13,266.55 506.23,267.25 507.10,267.60" fill="none" stroke="#111" stroke-width="1.30" stroke-linejoin="round" stroke-linecap="round"/>
<path d="M480.20,247.50 C481.07,248.55 483.15,251.72 485.40,253.80 C487.65,255.88 490.95,258.28 493.70,260.00 C496.45,261.72 499.67,263.08 501.90,264.10 C504.13,265.12 506.23,265.77 507.10,266.10 L507.10,269.20 C506.23,268.83 504.13,268.10 501.90,267.00 C499.67,265.90 496.45,264.43 493.70,262.60 C490.95,260.77 487.65,258.18 485.40,256.00 C483.15,253.82 481.07,250.58 480.20,249.50 Z" fill="#111" stroke="#111" stroke-width="0.50" stroke-linejoin="round"/>
<path d="M411.00,217.60 C411.42,217.77 412.65,218.13 413.50,218.60 C414.35,219.07 415.10,219.70 416.10,220.40 C417.10,221.10 418.43,221.97 419.50,222.80 C420.57,223.63 421.50,224.48 422.50,225.40 C423.50,226.32 424.58,227.33 425.50,228.30 C426.42,229.27 427.22,230.08 428.00,231.20 C428.78,232.32 429.53,233.65 430.20,235.00 C430.87,236.35 431.37,237.72 432.00,239.30 C432.63,240.88 433.38,242.88 434.00,244.50 C434.62,246.12 435.07,247.07 435.70,249.00 C436.33,250.93 436.72,253.07 437.80,256.10 C438.88,259.13 440.53,263.50 442.20,267.20 C443.87,270.90 445.77,274.97 447.80,278.30 C449.83,281.63 451.82,284.60 454.40,287.20 C456.98,289.80 459.97,291.93 463.30,293.90 C466.63,295.87 470.32,297.45 474.40,299.00 C478.48,300.55 484.08,302.20 487.80,303.20 C491.52,304.20 493.55,304.52 496.70,305.00 C499.85,305.48 505.03,305.92 506.70,306.10" fill="none" stroke="#111" stroke-width="1.40" stroke-linejoin="round" stroke-linecap="round"/>
<path d="M447.80,277.50 C448.90,278.95 451.82,283.65 454.40,286.20 C456.98,288.75 459.97,290.85 463.30,292.80 C466.63,294.75 470.32,296.37 474.40,297.90 C478.48,299.43 484.08,301.02 487.80,302.00 C491.52,302.98 493.55,303.32 496.70,303.80 C499.85,304.28 505.03,304.72 506.70,304.90 L506.70,307.40 C505.03,307.22 499.85,306.78 496.70,306.30 C493.55,305.82 491.52,305.52 487.80,304.50 C484.08,303.48 478.48,301.77 474.40,300.20 C470.32,298.63 466.63,297.08 463.30,295.10 C459.97,293.12 456.98,290.93 454.40,288.30 C451.82,285.67 448.90,280.80 447.80,279.30 Z" fill="#111" stroke="#111" stroke-width="0.50" stroke-linejoin="round"/>
</g>
</svg>
</body></html>
